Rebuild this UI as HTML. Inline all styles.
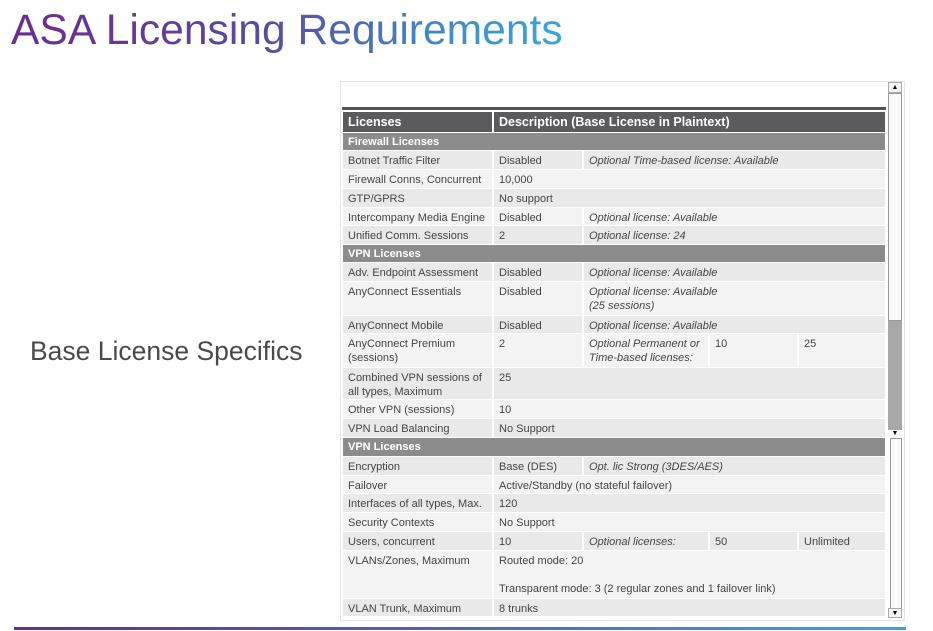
<!DOCTYPE html>
<html><head><meta charset="utf-8">
<style>
body{margin:0;width:933px;height:631px;background:#fff;position:relative;overflow:hidden;font-family:"Liberation Sans",sans-serif}
#title{position:absolute;left:11px;top:5px;font-size:42.6px;line-height:50px;background:linear-gradient(90deg,#6a2d8f 0%,#5a4aa0 45%,#3f8ec9 80%,#3aa6da 100%);-webkit-background-clip:text;background-clip:text;color:transparent;white-space:nowrap}
#sub{position:absolute;left:30px;top:336px;font-size:26.5px;color:#4a4a4a}
#bottom{position:absolute;left:14px;top:627px;width:892px;height:3px;background:linear-gradient(90deg,#6a2d8f,#4a6ab4,#3aa6da)}
#frame{position:absolute;left:340px;top:81px;width:563px;height:538px;border:1px solid #e4e4e4;background:#fff}
.c{position:absolute;font-size:11px;color:#444;padding:3px 0 0 5px;box-sizing:border-box;line-height:14px}
.i{font-style:italic}
.h{color:#fff;font-weight:bold;font-size:12.5px;padding-top:3px}
.s{color:#fff;font-weight:bold;font-size:11px;padding-top:2px}
.sb{position:absolute;box-sizing:border-box}
</style></head><body>
<div id="title">ASA Licensing Requirements</div>
<div id="sub">Base License Specifics</div>
<div id="frame"></div>
<div class="sb" style="left:342px;top:107px;width:544px;height:3px;background:#555"></div>
<div id="tbl"></div>
<div class="sb" style="left:888px;top:82px;width:14px;height:11px;border:1px solid #aaa;background:#f4f4f4;font-size:7px;text-align:center;line-height:9px">▲</div>
<div class="sb" style="left:888px;top:93px;width:14px;height:228px;border:1px solid #999;background:#fafafa"></div>
<div class="sb" style="left:888px;top:321px;width:14px;height:109px;background:#a8a8a8"></div>
<div class="sb" style="left:888px;top:430px;width:14px;height:8px;font-size:7px;text-align:center;line-height:8px">▼</div>
<div class="sb" style="left:890px;top:438px;width:12px;height:172px;border:1px solid #999;background:#fafafa"></div>
<div class="sb" style="left:888px;top:608px;width:14px;height:10px;border:1px solid #aaa;background:#f4f4f4;font-size:7px;text-align:center;line-height:9px">▼</div>
<div id="bottom"></div>
<script>
const colX=[343,494,584,710,799,887];
const rows=[
[112,131,'h',[[0,1,'Licenses'],[1,5,'Description (Base License in Plaintext)']]],
[133,149,'s',[[0,5,'Firewall Licenses']]],
[151,168,'a',[[0,1,'Botnet Traffic Filter'],[1,2,'Disabled'],[2,5,'Optional Time-based license: Available',1]]],
[170,187,'b',[[0,1,'Firewall Conns, Concurrent'],[1,5,'10,000']]],
[189,206,'a',[[0,1,'GTP/GPRS'],[1,5,'No support']]],
[208,224,'b',[[0,1,'Intercompany Media Engine'],[1,2,'Disabled'],[2,5,'Optional license: Available',1]]],
[226,243,'a',[[0,1,'Unified Comm. Sessions'],[1,2,'2'],[2,5,'Optional license: 24',1]]],
[245,261,'s',[[0,5,'VPN Licenses']]],
[263,280,'a',[[0,1,'Adv. Endpoint Assessment'],[1,2,'Disabled'],[2,5,'Optional license: Available',1]]],
[282,314,'b',[[0,1,'AnyConnect Essentials'],[1,2,'Disabled'],[2,5,'Optional license: Available<br>(25 sessions)',1]]],
[316,332,'a',[[0,1,'AnyConnect Mobile'],[1,2,'Disabled'],[2,5,'Optional license: Available',1]]],
[334,366,'b',[[0,1,'AnyConnect Premium<br>(sessions)'],[1,2,'2'],[2,3,'Optional Permanent or<br>Time-based licenses:',1],[3,4,'10'],[4,5,'25']]],
[368,398,'a',[[0,1,'Combined VPN sessions of<br>all types, Maximum'],[1,5,'25']]],
[400,417,'b',[[0,1,'Other VPN (sessions)'],[1,5,'10']]],
[419,436,'a',[[0,1,'VPN Load Balancing'],[1,5,'No Support']]],
[438,455,'s',[[0,5,'VPN Licenses']]],
[457,474,'a',[[0,1,'Encryption'],[1,2,'Base (DES)'],[2,5,'Opt. lic Strong (3DES/AES)',1]]],
[476,492,'b',[[0,1,'Failover'],[1,5,'Active/Standby (no stateful failover)']]],
[494,511,'a',[[0,1,'Interfaces of all types, Max.'],[1,5,'120']]],
[513,530,'b',[[0,1,'Security Contexts'],[1,5,'No Support']]],
[532,549,'a',[[0,1,'Users, concurrent'],[1,2,'10'],[2,3,'Optional licenses:',1],[3,4,'50'],[4,5,'Unlimited']]],
[551,597,'b',[[0,1,'VLANs/Zones, Maximum'],[1,5,'Routed mode: 20<br><br>Transparent mode: 3 (2 regular zones and 1 failover link)']]],
[599,615,'a',[[0,1,'VLAN Trunk, Maximum'],[1,5,'8 trunks']]]
];
const bg={h:'#5b5b5d',s:'#8c8c8c',a:'#e9e9e9',b:'#f3f3f3'};
const tbl=document.getElementById('tbl');
rows.forEach(r=>{
  r[3].forEach(c=>{
    const d=document.createElement('div');
    
    
    d.className='c '+(r[2]==='h'?'h':r[2]==='s'?'s':'')+(c[3]?' i':'');
    d.style.left=colX[c[0]]+'px';
    d.style.top=r[0]+'px';
    d.style.width=(colX[c[1]]-colX[c[0]]-2)+'px';
    d.style.height=(r[1]-r[0]+1)+'px';
    d.style.background=bg[r[2]];
    d.innerHTML=c[2];
    tbl.appendChild(d);
  });
});
</script>
</body></html>
